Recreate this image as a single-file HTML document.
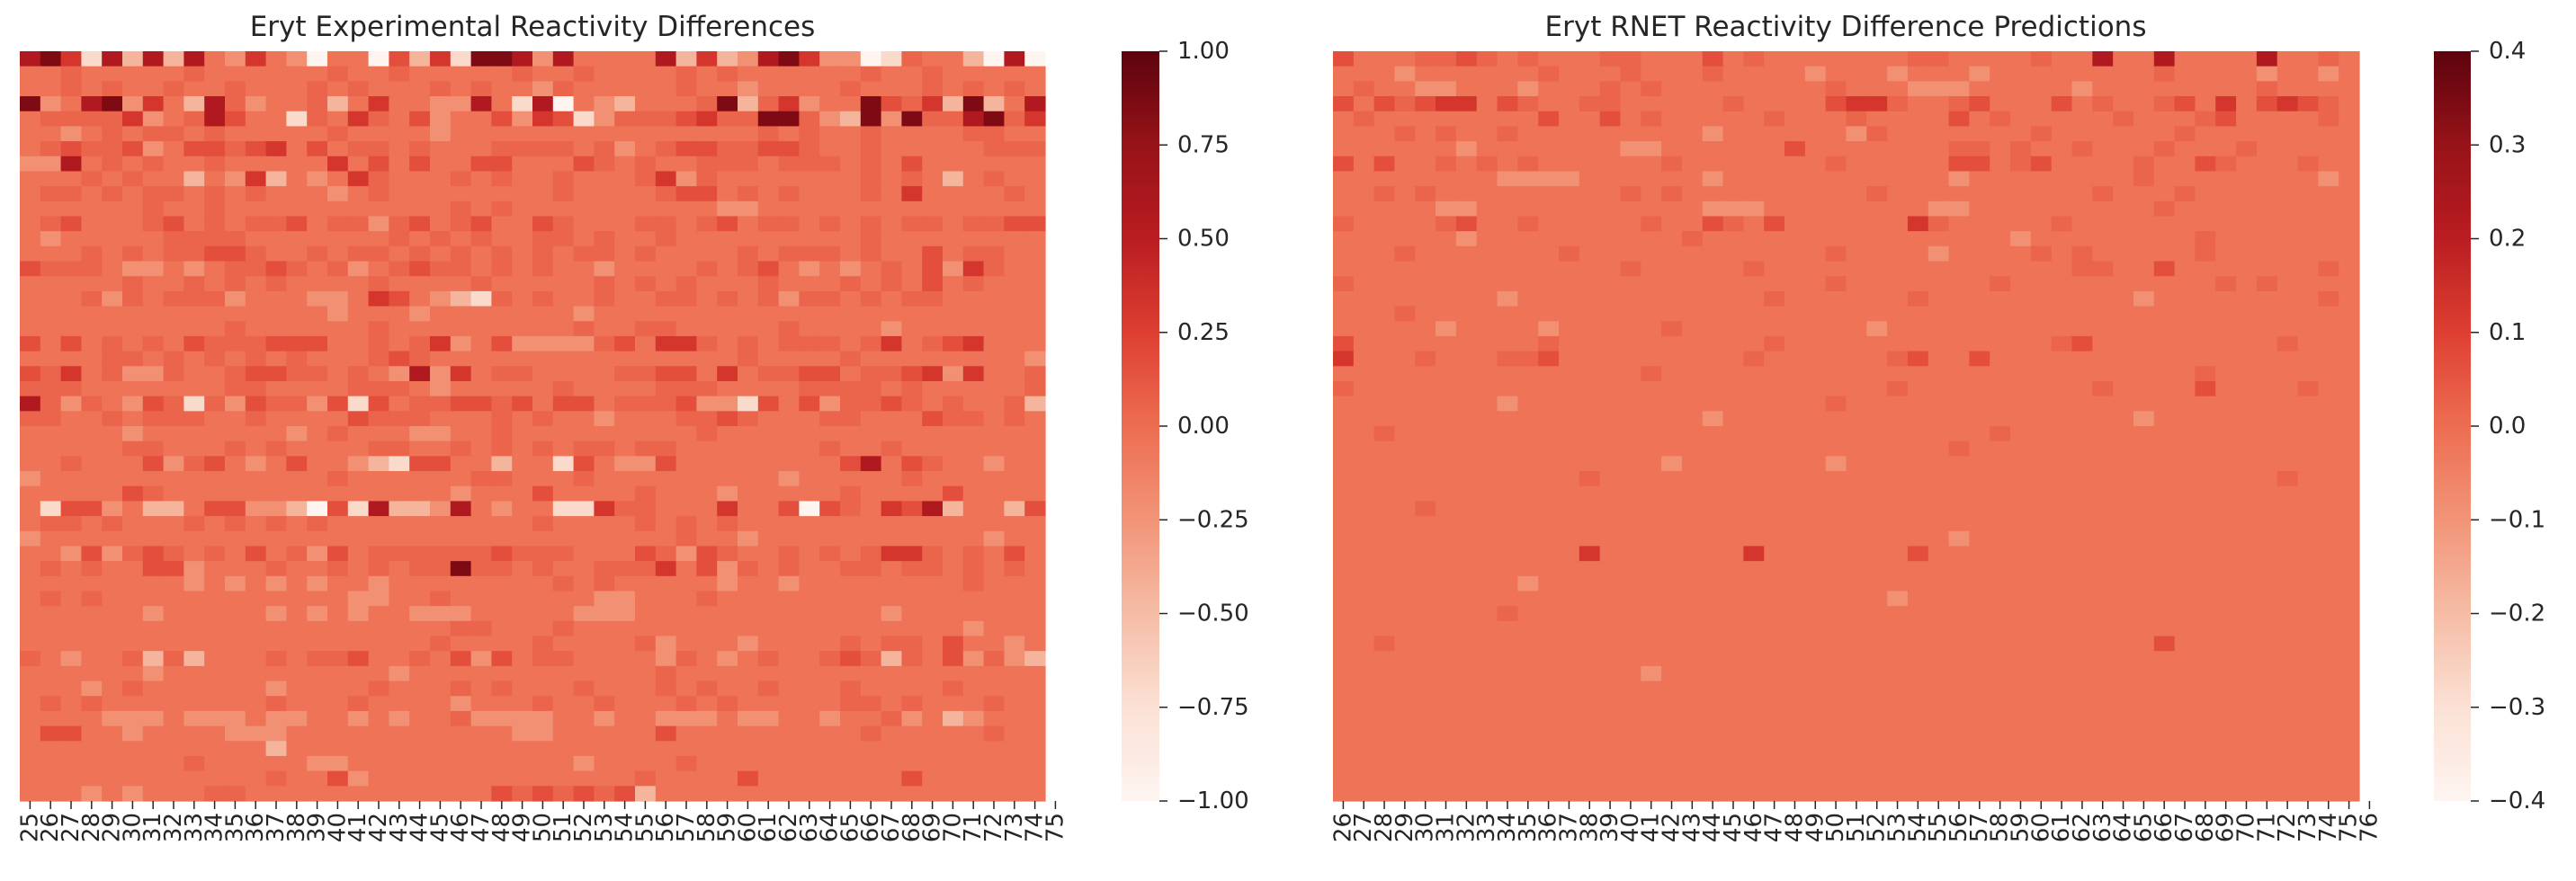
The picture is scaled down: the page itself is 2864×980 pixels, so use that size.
<!DOCTYPE html>
<html><head><meta charset="utf-8">
<style>
html,body{margin:0;padding:0;background:#fff;}
svg{display:block;}
text{font-family:"DejaVu Sans","Liberation Sans",sans-serif;fill:#262626;}
.muted{filter:saturate(0.88);}
</style></head>
<body>
<svg id="fig" width="2864" height="980" viewBox="0 0 2864 980" xmlns="http://www.w3.org/2000/svg">
<defs>
<linearGradient id="redsGrad" x1="0" y1="1" x2="0" y2="0">
<stop offset="0" stop-color="#fff5f0"/><stop offset="0.125" stop-color="#fee0d2"/><stop offset="0.25" stop-color="#fcbba1"/><stop offset="0.375" stop-color="#fc9272"/><stop offset="0.5" stop-color="#fb6a4a"/><stop offset="0.625" stop-color="#ef3b2c"/><stop offset="0.75" stop-color="#cb181d"/><stop offset="0.875" stop-color="#a50f15"/><stop offset="1" stop-color="#67000d"/>
</linearGradient>
</defs>
<text x="592" y="40" font-size="31" text-anchor="middle">Eryt Experimental Reactivity Differences</text>
<text x="2052" y="40" font-size="31" text-anchor="middle">Eryt RNET Reactivity Difference Predictions</text>
<g id="leftMap"></g>
<g id="rightMap"></g>
<g id="leftCb"></g>
<g id="rightCb"></g>
</svg>
<script>
// level code -> value (fraction of the colour-scale half-range)
const levelValues = [-1, -0.7, -0.45, -0.22, -0.04, 0.05, 0.17, 0.32, 0.57, 0.86];
const leftCategories = []; for (let i = 25; i <= 75; i++) leftCategories.push(String(i));
const rightCategories = []; for (let i = 26; i <= 76; i++) rightCategories.push(String(i));
const leftTicks = ["1.00","0.75","0.50","0.25","0.00","\u22120.25","\u22120.50","\u22120.75","\u22121.00"];
const leftTickValues = [1,0.75,0.5,0.25,0,-0.25,-0.5,-0.75,-1];
const rightTicks = ["0.4","0.3","0.2","0.1","0.0","\u22120.1","\u22120.2","\u22120.3","\u22120.4"];
const rightTickValues = [0.4,0.3,0.2,0.1,0,-0.1,-0.2,-0.3,-0.4];
const leftRows = [
"89718282843743044062719983844448272389733015442080",
"44544444544444454454444454454444545444444544544444",
"44545445445444545444545443544444544344445444545454",
"93489374285344524744338418043244459257344965729248",
"45555734586441547546344637613555675599532939558957",
"44345455454444454444344444444444444454544544445544",
"45655634665674645545444555545345665566544544444555",
"33845454454444474646446644465454455545554546444444",
"44454544243724347544454544544457354444444545424544",
"45545455454544434544444444544445664545444547444454",
"44444454454444444444454544444444443344444444444444",
"45644456454556455356456446544455456455454545545566",
"43444445555444444454545445545445444444444544444444",
"44454545566544545545454545455454444545554544645544",
"65554334345565453456554545443444454564343454637544",
"44444544545454444544445444445454544454445454645444",
"44453545553444334764321545445445545453554545544444",
"44444444444444434443444444434444444444444444444444",
"44444444445444444544444444454455444445444434444444",
"64645454655566644545734633335647754545554574567444",
"44445545454545444565444444444444444544445444444443",
"65745335445665545438374554444556647455664556737445",
"55544444445544445554344444544445554444555545444445",
"85354365153655361645566564664555633164635565454452",
"55445455544544446555444545443444556544455444655454",
"44444344444443454443344544444444454444444444444444",
"44444554445454444554454545455455444444454454444444",
"44544463564346443216644244164336444444446846544344",
"34444444444444454444445544454444444443444445444444",
"44444654444444444444434446444454443444445444464444",
"41663422466332061822384344117554447446065476824426",
"45545444545454544444444445444454545444444444444444",
"34444444444444444444444444444444544344444444444344",
"44363565454645364555555655544465365445454577545464",
"45454466344454454545595545445557463545445545545454",
"44444444343434344344444444545444443443444444445444",
"45454444444444443344544444443344454444444444444444",
"44444434444434343443334444433344444444444434444444",
"44444444444444444444455444544444444444444444443444",
"44444444444444444444544445444453444344445455464434",
"54344525244454556445463645544443543454456525463532",
"44444434444444444434444444444445444444444444444444",
"44434544444434444544454544454445454454445444454444",
"45454444444454445444434445445444545444445545444544",
"44443334333433443434453333443443334334434453423444",
"46644344443334444444444433444446444444444544444544",
"44444444444424444444444444444444444444444444444444",
"44444444544444334444444444434444544444444444444444",
"44444444444454463444444444444454444644444446444444",
"44434344455444444444444656565624444444444444444444"
];
const rightRows = [
"64445565454445544464544444445544445448448444484454",
"44434444445444544454444344434443444444445444434434",
"45443344434445454444444454443334444434444444454444",
"64656774654455444445444467754456444645445647467654",
"45444444446446454444454445444464544444544456444454",
"44454544544444444434444443544444445444444544444444",
"44444434444444334444446444444455454454445444544444",
"64644545454444445444444454444466456444454465444544",
"44444444333344444434444444444434444444454444444434",
"44545444444444545444444444544444444445444544444444",
"44444334444444444433344444444334444444445444444444",
"54444564454444454465464444447544444544444444444444",
"44444434444444444544444444444444434444444454444444",
"44454444444544444444444454444344445454444454444444",
"44444444444444544444544444444444444455446444444454",
"54444444444444444444444454444444544444444445454444",
"44444444344444444444454444445444444444434444444454",
"44454444444444444444444444444444444444444444444444",
"44444344443444445444444444344444444444444444444444",
"64444444445444444444454444444444444564444444445444",
"74445444556444444444544444456446444444444444444444",
"44444444444444454444444444444444444444444454444444",
"54444444444444444444444444454444444445444464444544",
"44444444344444444444444454444444444444444444444444",
"44444444444444444434444444444444444444434444444444",
"44544444444444444444444444444444544444444444444444",
"44444444444444444444444444444454444444444444444444",
"44444444444444443444444434444444444444444444444444",
"44444444444454444444444444444444444444444444445444",
"44444444444444444444444444444444444444444444444444",
"44445444444444444444444444444444444444444444444444",
"44444444444444444444444444444444444444444444444444",
"44444444444444444444444444444434444444444444444444",
"44444444444474444444744444446444444444444444444444",
"44444444444444444444444444444444444444444444444444",
"44444444434444444444444444444444444444444444444444",
"44444444444444444444444444434444444444444444444444",
"44444444544444444444444444444444444444444444444444",
"44444444444444444444444444444444444444444444444444",
"44544444444444444444444444444444444444446444444444",
"44444444444444444444444444444444444444444444444444",
"44444444444444434444444444444444444444444444444444",
"44444444444444444444444444444444444444444444444444",
"44444444444444444444444444444444444444444444444444",
"44444444444444444444444444444444444444444444444444",
"44444444444444444444444444444444444444444444444444",
"44444444444444444444444444444444444444444444444444",
"44444444444444444444444444444444444444444444444444",
"44444444444444444444444444444444444444444444444444",
"44444444444444444444444444444444444444444444444444"
];
const REDS = [[255,245,240],[254,224,210],[252,187,161],[252,146,114],[251,106,74],[239,59,44],[203,24,29],[165,15,21],[103,0,13]];
function reds(t){t=Math.max(0,Math.min(1,t));const p=t*8;const i=Math.min(7,Math.floor(p));const f=p-i;const a=REDS[i],b=REDS[i+1];
return 'rgb('+a.map((v,k)=>Math.round(v+(b[k]-v)*f)).join(',')+')';}
const NS='http://www.w3.org/2000/svg';
function mk(tag,attrs,parent){const e=document.createElementNS(NS,tag);for(const k in attrs)e.setAttribute(k,attrs[k]);parent.appendChild(e);return e;}
function drawMap(g,rows,vmax,x0,x1,y0,y1,cats,name){
  const nR=rows.length,nC=rows[0].length;const cw=(x1-x0)/nC,ch=(y1-y0)/nR;
  const xs=c=>x0+c*cw, ys=r=>y0+r*ch;
  const color=v=>reds((v+vmax)/(2*vmax));
  const cells=mk('g',{'class':'muted'},g);
  
  
  for(let r=0;r<nR;r++)for(let c=0;c<nC;c++){
    const v=levelValues[+rows[r][c]]*vmax;
    const el=mk('rect',{x:xs(c).toFixed(2),y:ys(r).toFixed(2),width:(cw+0.6).toFixed(2),height:(ch+0.6).toFixed(2),fill:color(v)},cells);
    
    
  }
  for(let i=0;i<cats.length;i++){
    const tx=x0+(i+0.5)*cw;
    const t=mk('line',{x1:tx,x2:tx,y1:y1,y2:y1+9,stroke:'#262626','stroke-width':1.5},g);
    
    
    const lb=mk('text',{x:0,y:0,'font-size':26,'text-anchor':'end','dominant-baseline':'central',transform:'translate('+tx+','+(y1+13)+') rotate(-90)'},g);
    lb.textContent=cats[i];
    
    
  }
}
function drawCb(g,x,w,y0,y1,vals,labels,vmax){
  const r=mk('rect',{x:x,y:y0,width:w,height:y1-y0,fill:'url(#redsGrad)','class':'muted'},g);
  
  
  const ys=v=>y1-(v+vmax)/(2*vmax)*(y1-y0);
  for(let i=0;i<vals.length;i++){
    const y=ys(vals[i]);
    const t=mk('line',{x1:x+w,x2:x+w+9,y1:y,y2:y,stroke:'#262626','stroke-width':1.5},g);
    
    
    const lb=mk('text',{x:x+w+20,y:y,'font-size':26,'dominant-baseline':'central'},g);
    lb.textContent=labels[i];
    
    
  }
}
drawMap(document.getElementById('leftMap'),leftRows,1,22,1162,57,891,leftCategories,'left');
drawMap(document.getElementById('rightMap'),rightRows,0.4,1482,2623,57,891,rightCategories,'right');
drawCb(document.getElementById('leftCb'),1247,42,57,891,leftTickValues,leftTicks,1);
drawCb(document.getElementById('rightCb'),2706,41,57,891,rightTickValues,rightTicks,0.4);
</script>
</body></html>
